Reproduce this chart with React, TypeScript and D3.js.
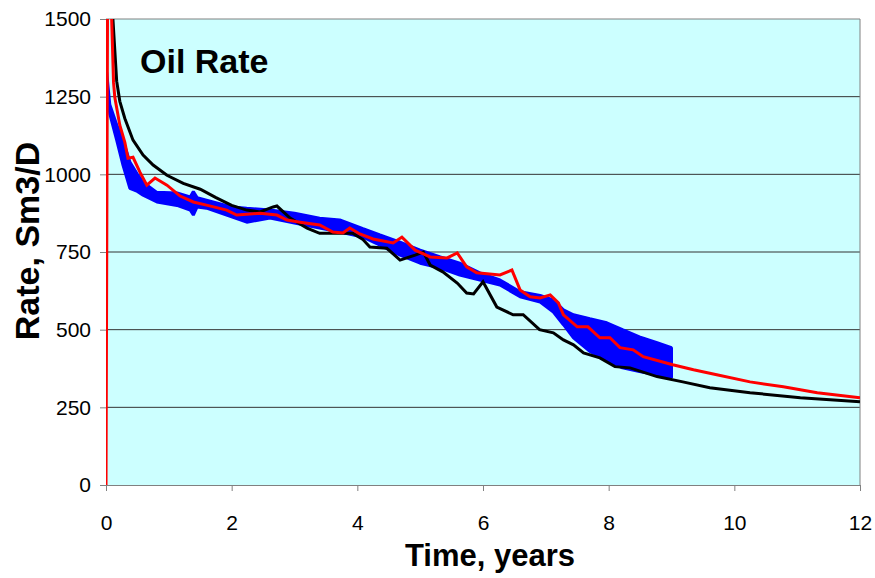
import React, { useRef, useEffect } from "react";
import * as d3 from "d3";

// simulated oil rate vs time
const yTicks = [0, 250, 500, 750, 1000, 1250, 1500];
const xTicks = [0, 2, 4, 6, 8, 10, 12];

// blue: noisy band (upper / lower envelope)
const blueTime = [0.01, 0.06, 0.17, 0.27, 0.38, 0.5, 0.59, 0.81, 1.13, 1.34, 1.39, 1.45, 1.6, 2.0, 2.24, 2.61, 3.0, 3.4, 3.72, 4.09, 4.36, 4.68, 5.0, 5.32, 5.63, 5.95, 6.27, 6.59, 6.91, 7.12, 7.28, 7.44, 7.7, 7.97, 8.22, 8.49, 8.77, 9.0];
const blueUpper = [1330, 1225, 1160, 1110, 1040, 1000, 975, 942, 940, 927, 945, 925, 917, 895, 891, 885, 875, 859, 853, 825, 805, 782, 756, 734, 714, 683, 660, 622, 610, 596, 564, 548, 535, 522, 500, 477, 458, 442];
const blueLower = [1290, 1195, 1110, 1030, 955, 945, 933, 911, 900, 885, 869, 895, 891, 863, 846, 859, 843, 827, 814, 798, 772, 740, 714, 698, 676, 660, 644, 606, 589, 557, 516, 474, 430, 403, 377, 365, 355, 345];

// red
const redTime = [0, 0.03, 0.09, 0.12, 0.14, 0.22, 0.3, 0.35, 0.43, 0.54, 0.65, 0.78, 0.97, 1.18, 1.39, 1.6, 1.92, 2.08, 2.29, 2.45, 2.72, 2.88, 3.09, 3.4, 3.61, 3.77, 3.88, 4.04, 4.25, 4.57, 4.71, 4.92, 5.16, 5.43, 5.59, 5.74, 5.9, 6.27, 6.46, 6.59, 6.75, 6.91, 7.07, 7.2, 7.28, 7.5, 7.67, 7.86, 8.02, 8.18, 8.39, 8.55, 9.02, 9.35, 9.72, 10.25, 10.78, 11.32, 12];
const redRate = [0, 1900, 1500, 1296, 1248, 1158, 1103, 1052, 1055, 1007, 965, 988, 965, 930, 911, 901, 885, 869, 872, 875, 869, 853, 846, 837, 814, 811, 827, 808, 792, 779, 798, 756, 734, 731, 747, 702, 683, 676, 692, 628, 606, 602, 612, 586, 548, 509, 509, 474, 474, 442, 435, 413, 387, 371, 355, 332, 316, 297, 281];

// black
const blackTime = [0.07, 0.11, 0.17, 0.22, 0.3, 0.43, 0.59, 0.75, 0.97, 1.23, 1.5, 1.75, 2.0, 2.24, 2.45, 2.66, 2.72, 2.93, 3.2, 3.4, 3.61, 3.93, 4.09, 4.2, 4.47, 4.68, 4.92, 5.05, 5.16, 5.36, 5.59, 5.74, 5.85, 6.0, 6.22, 6.48, 6.64, 6.9, 7.12, 7.28, 7.44, 7.6, 7.86, 8.1, 8.34, 8.77, 9.18, 9.61, 10.25, 11.05, 12];
const blackRate = [1700, 1500, 1300, 1235, 1180, 1110, 1062, 1030, 997, 971, 952, 925, 900, 885, 879, 895, 898, 859, 827, 810, 810, 810, 790, 766, 762, 724, 740, 750, 708, 686, 650, 618, 615, 654, 573, 548, 548, 500, 490, 467, 451, 425, 409, 381, 377, 349, 332, 313, 297, 281, 268];

const W = 875, H = 578;
const font = "Arial, 'Liberation Sans', sans-serif";

const App = () => {
  const ref = useRef<SVGSVGElement>(null);

  useEffect(() => {
    const svg = d3.select(ref.current);
    svg.selectAll("*").remove();

    const x = d3.scaleLinear().domain([0, 12]).range([106, 860]);
    const y = d3.scaleLinear().domain([0, 1500]).range([485, 19]);

    // plot background
    svg.append("rect")
      .attr("x", x(0)).attr("y", y(1500))
      .attr("width", x(12) - x(0)).attr("height", y(0) - y(1500))
      .attr("fill", "#ccffff");

    svg.append("clipPath").attr("id", "plotclip")
      .append("rect")
      .attr("x", x(0)).attr("y", y(1500))
      .attr("width", x(12) - x(0)).attr("height", y(0) - y(1500));

    // gridlines
    svg.append("g").selectAll("line")
      .data(yTicks.filter(d => d > 0))
      .join("line")
      .attr("x1", x(0)).attr("x2", x(12))
      .attr("y1", d => y(d)).attr("y2", d => y(d))
      .attr("stroke", d => (d === 1500 ? "#808080" : "#333"))
      .attr("stroke-width", 1);

    // right border
    svg.append("line")
      .attr("x1", x(12)).attr("x2", x(12))
      .attr("y1", y(0)).attr("y2", y(1500))
      .attr("stroke", "#808080");

    // axes
    const yAxis = svg.append("g")
      .attr("transform", `translate(${x(0)},0)`)
      .call(d3.axisLeft(y).tickValues(yTicks).tickFormat(d3.format("d")).tickSize(6).tickSizeOuter(0).tickPadding(9));
    const xAxis = svg.append("g")
      .attr("transform", `translate(0,${y(0)})`)
      .call(d3.axisBottom(x).tickValues(xTicks).tickFormat(d3.format("d")).tickSize(6).tickSizeOuter(0).tickPadding(24));
    [yAxis, xAxis].forEach(g => {
      g.select(".domain").attr("stroke", "#808080");
      g.selectAll(".tick line").attr("stroke", "#808080");
      g.selectAll("text").attr("font-size", 21).attr("font-family", font).attr("fill", "#000");
    });

    const plot = svg.append("g").attr("clip-path", "url(#plotclip)");

    // blue band
    const blue = blueTime.map((t, i) => ({ t, hi: blueUpper[i], lo: blueLower[i] }));
    plot.append("path")
      .datum(blue)
      .attr("d", d3.area<any>().x(d => x(d.t)).y0(d => y(d.lo)).y1(d => y(d.hi)))
      .attr("fill", "#0000ff")
      .attr("stroke", "#0000ff")
      .attr("stroke-width", 3)
      .attr("stroke-linejoin", "bevel");

    const line = d3.line<[number, number]>().x(d => x(d[0])).y(d => y(d[1]));

    // black
    plot.append("path")
      .datum(blackTime.map((t, i) => [t, blackRate[i]] as [number, number]))
      .attr("d", line)
      .attr("fill", "none")
      .attr("stroke", "#000")
      .attr("stroke-width", 3);

    // red
    plot.append("path")
      .datum(redTime.map((t, i) => [t, redRate[i]] as [number, number]))
      .attr("d", line)
      .attr("fill", "none")
      .attr("stroke", "#ff0000")
      .attr("stroke-width", 3);

    // titles
    svg.append("text")
      .attr("x", 140).attr("y", 73)
      .attr("font-family", font).attr("font-weight", "bold").attr("font-size", 34)
      .text("Oil Rate");

    svg.append("text")
      .attr("x", 490).attr("y", 566)
      .attr("text-anchor", "middle")
      .attr("font-family", font).attr("font-weight", "bold").attr("font-size", 31)
      .text("Time, years");

    svg.append("text")
      .attr("transform", "translate(39,241) rotate(-90)")
      .attr("text-anchor", "middle")
      .attr("font-family", font).attr("font-weight", "bold").attr("font-size", 34)
      .text("Rate, Sm3/D");
  }, []);

  return (
    <svg ref={ref} width={W} height={H}
      style={{ position: "absolute", left: 0, top: 0, background: "#fff" }} />
  );
};

export default App;
